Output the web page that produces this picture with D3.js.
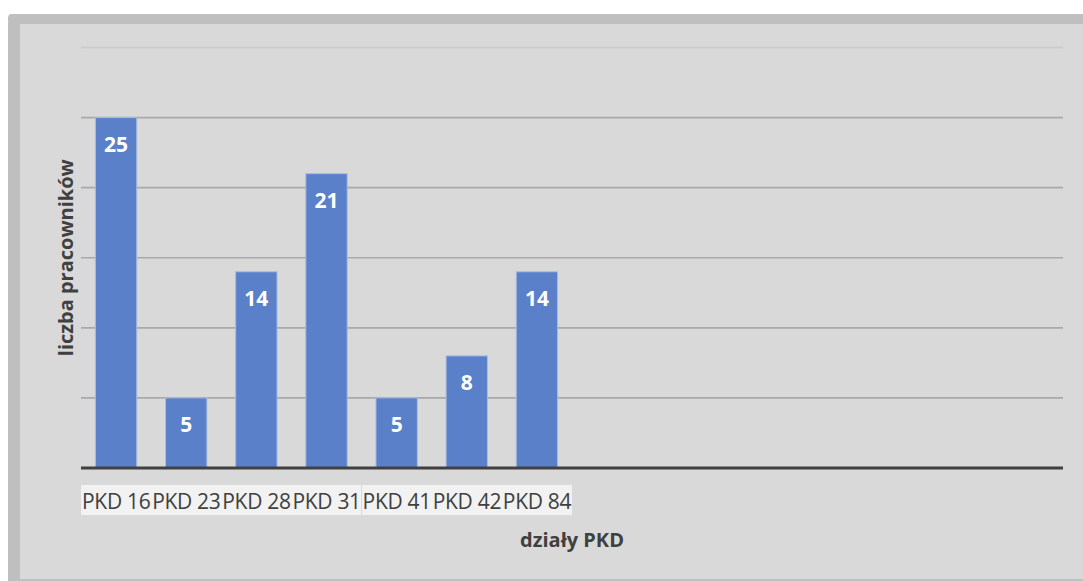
<!DOCTYPE html>
<html>
<head>
<meta charset="utf-8">
<script src="https://cdn.jsdelivr.net/npm/d3@7"></script>
<style>
  html, body { margin: 0; padding: 0; background: #ffffff; }
  svg { display: block; }
  text { font-family: "Open Sans", "DejaVu Sans", sans-serif; }
</style>
</head>
<body>
<svg id="chart" width="1083" height="581"></svg>
<script>
// Employees per PKD division (14 category slots, the last seven are empty)
const categories = ["PKD 16", "PKD 23", "PKD 28", "PKD 31", "PKD 41", "PKD 42", "PKD 84",
                    "", "", "", "", "", "", ""];
const employees = [25, 5, 14, 21, 5, 8, 14, null, null, null, null, null, null, null];
const yTicks = [0, 5, 10, 15, 20, 25, 30];

const slots = categories.map((c, i) => ({ key: "slot" + i, label: c, value: employees[i] }));

const svg = d3.select("#chart");
const W = 1083, H = 581;

// frame
svg.append("rect").attr("x", 8).attr("y", 14).attr("width", W).attr("height", H)
  .attr("rx", 4).attr("fill", "#bfbfbf");
svg.append("rect").attr("x", 20).attr("y", 24).attr("width", W - 20).attr("height", 555)
  .attr("fill", "#d9d9d9");

const plot = { left: 81, right: 1063, top: 47.5, bottom: 468 };

const x = d3.scaleBand()
  .domain(slots.map(d => d.key))
  .range([plot.left, plot.right])
  .paddingInner(0.41)
  .paddingOuter(0.205);

const step = x.step();

const y = d3.scaleLinear().domain([0, 30]).range([plot.bottom, plot.top]);

// gridlines
svg.append("g")
  .selectAll("line")
  .data(yTicks.filter(t => t > 0))
  .join("line")
  .attr("x1", plot.left).attr("x2", plot.right)
  .attr("y1", d => y(d)).attr("y2", d => y(d))
  .attr("stroke", d => d === 30 ? "#cccccc" : "#a9a9a9")
  .attr("stroke-width", 1.6);

// bars
const filled = slots.filter(d => d.value != null);
svg.append("g")
  .selectAll("rect")
  .data(filled)
  .join("rect")
  .attr("x", d => x(d.key))
  .attr("y", d => y(d.value))
  .attr("width", x.bandwidth())
  .attr("height", d => y(0) - y(d.value))
  .attr("fill", "#5a80c9")
  .attr("stroke", "#a9bde3")
  .attr("stroke-width", 1);

// value labels
svg.append("g")
  .selectAll("text")
  .data(filled)
  .join("text")
  .attr("x", d => x(d.key) + x.bandwidth() / 2)
  .attr("y", d => y(d.value) + 34.5)
  .attr("text-anchor", "middle")
  .attr("fill", "#ffffff")
  .attr("font-weight", 700)
  .attr("font-size", 21)
  .text(d => d.value);

// baseline
svg.append("line")
  .attr("x1", plot.left).attr("x2", plot.right)
  .attr("y1", y(0)).attr("y2", y(0))
  .attr("stroke", "#404040").attr("stroke-width", 3.2);

// category labels on a light strip, left aligned in each slot
const labelled = slots.filter(d => d.label);
const slotStart = d => x(d.key) - x.step() * x.paddingOuter();
svg.append("rect")
  .attr("x", plot.left)
  .attr("y", 485)
  .attr("width", step * labelled.length)
  .attr("height", 30)
  .attr("fill", "#f2f2f2");
svg.append("line")
  .attr("x1", plot.left + step * 4).attr("x2", plot.left + step * 4)
  .attr("y1", 485).attr("y2", 515)
  .attr("stroke", "#d9d9d9").attr("stroke-width", 1);
svg.append("g")
  .selectAll("text")
  .data(labelled)
  .join("text")
  .attr("x", d => slotStart(d) + 1)
  .attr("y", 508.5)
  .attr("fill", "#404040")
  .attr("font-size", 21)
  .attr("letter-spacing", -0.3)
  .text(d => d.label);

// axis titles
svg.append("text")
  .attr("x", (plot.left + plot.right) / 2)
  .attr("y", 547)
  .attr("text-anchor", "middle")
  .attr("fill", "#404040")
  .attr("font-weight", 700)
  .attr("font-size", 20)
  .text("działy PKD");

svg.append("text")
  .attr("transform", `translate(73, ${(plot.top + plot.bottom) / 2}) rotate(-90)`)
  .attr("text-anchor", "middle")
  .attr("fill", "#404040")
  .attr("font-weight", 700)
  .attr("font-size", 20)
  .text("liczba pracowników");
</script>
</body>
</html>
